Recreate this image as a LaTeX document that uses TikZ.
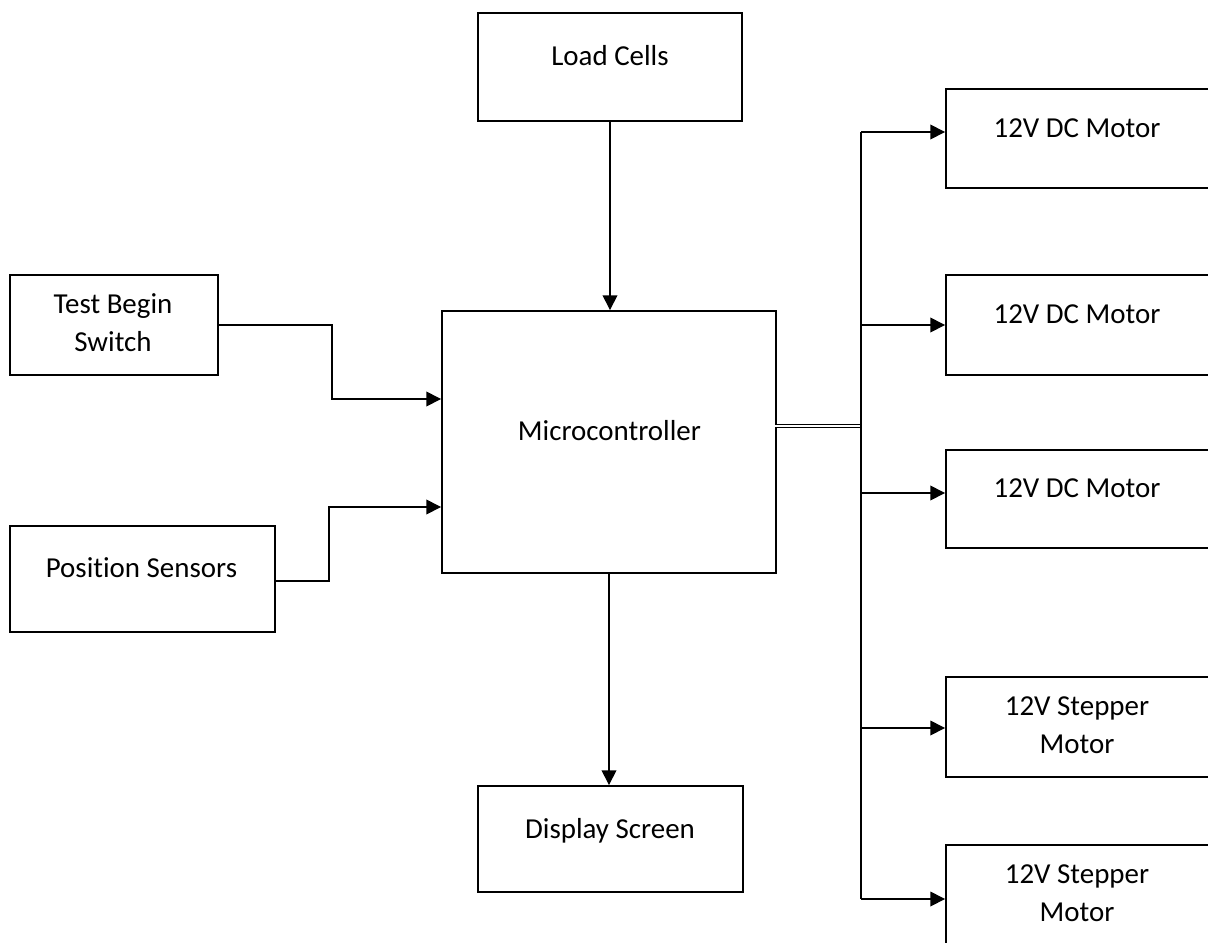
\documentclass[tikz,border=0pt]{standalone}
\usepackage{fontspec}
\setmainfont{Carlito}[RawFeature=-liga]
\usetikzlibrary{arrows.meta,calc}
\begin{document}
\begin{tikzpicture}[x=0.75pt,y=-0.75pt,
  box/.style={draw,line width=1.4pt,inner sep=0pt,minimum width=#1},
  lbl/.style={anchor=base,inner sep=0pt,font=\fontsize{21.7}{28.5}\selectfont,align=center},
  conn/.style={line width=1pt},
  arr/.style={line width=1pt,-{Triangle[length=11pt,width=11pt]}}]
\useasboundingbox (0,0) rectangle (1208,943);
\clip (0,0) rectangle (1208,943);
\fill[white] (0,0) rectangle (1208,943);
% boxes
\node[box=264*0.75pt,minimum height=108*0.75pt] (lc) at (610,67) {};
\node[box=334*0.75pt,minimum height=262*0.75pt] (mc) at (609,442) {};
\node[box=208*0.75pt,minimum height=100*0.75pt] (tbs) at (114,325) {};
\node[box=265*0.75pt,minimum height=106*0.75pt] (ps) at (142.5,579) {};
\node[box=265*0.75pt,minimum height=106*0.75pt] (ds) at (610.5,839) {};
\node[box=266*0.75pt,minimum height=99*0.75pt] (m1) at (1079,138.5) {};
\node[box=266*0.75pt,minimum height=100*0.75pt] (m2) at (1079,325) {};
\node[box=266*0.75pt,minimum height=98*0.75pt] (m3) at (1079,499) {};
\node[box=266*0.75pt,minimum height=100*0.75pt] (s1) at (1079,727) {};
\node[box=266*0.75pt,minimum height=100*0.75pt] (s2) at (1079,895) {};
% labels
\node[lbl] (lct) at (610,65) {Load Cells};
\node[lbl] (mct) at (609.5,440) {Microcontroller};
\node[lbl] (tbst) at (113,351) {Test Begin\\Switch};
\node[lbl] (pst) at (141.5,577) {Position Sensors};
\node[lbl] (dst) at (610,838) {Display Screen};
\node[lbl] (m1t) at (1077,137) {12V DC Motor};
\node[lbl] (m2t) at (1077,323) {12V DC Motor};
\node[lbl] (m3t) at (1077,497) {12V DC Motor};
\node[lbl] (s1t) at (1077,753) {12V Stepper\\Motor};
\node[lbl] (s2t) at (1077,921) {12V Stepper\\Motor};
% inputs
\draw[arr] (lc.south) -- (lc.south |- mc.north);
\draw[arr] (tbs.east) -- ++(113,0) |- ($(mc.west)+(0,-43)$);
\draw[arr] ($(ps.east)+(0,2)$) -- ++(53,0) |- ($(mc.west)+(0,65)$);
\draw[arr] (mc.south) -- (mc.south |- ds.north);
% output bus
\coordinate (tr) at (861,426);
\coordinate (t1) at (861,132);
\coordinate (t2) at (861,325);
\coordinate (t3) at (861,493);
\coordinate (t4) at (861,728);
\coordinate (t5) at (861,899);
\draw[line width=0.7pt,double distance=1.2pt] ($(mc.east)+(-2,-16)$) -- (tr);
\draw[conn] (t1) -- (t5);
\draw[arr] (t1) -- (t1 -| m1.west);
\draw[arr] (t2) -- (t2 -| m2.west);
\draw[arr] (t3) -- (t3 -| m3.west);
\draw[arr] (t4) -- (t4 -| s1.west);
\draw[arr] (t5) -- (t5 -| s2.west);
\end{tikzpicture}
\end{document}
